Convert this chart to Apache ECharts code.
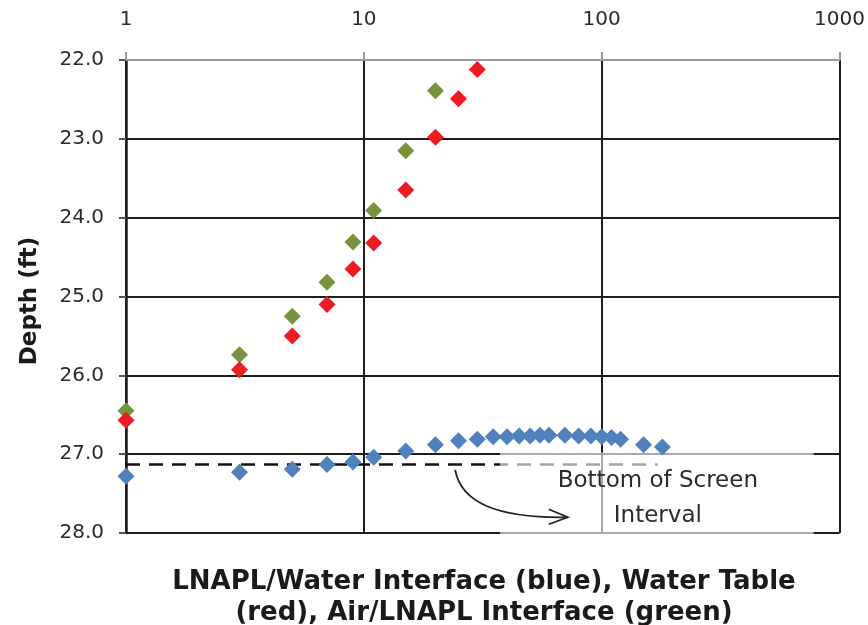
<!DOCTYPE html>
<html>
<head>
<meta charset="utf-8">
<script src="https://cdn.jsdelivr.net/npm/echarts@6/dist/echarts.min.js"></script>
<style>
  html, body { margin: 0; padding: 0; background: #fff; }
  #chart { width: 868px; height: 625px; }
</style>
</head>
<body>
<div id="chart"></div>
<script>
// Decade ticks of the logarithmic x axis
const xTicks = [1, 10, 100, 1000];
// Depth ticks (ft), depth increases downward
const depthTicks = [22, 23, 24, 25, 26, 27, 28];

// Air/LNAPL interface (green)
const greenX = [1, 3, 5, 7, 9, 11, 15, 20];
const greenDepth = [26.45, 25.74, 25.25, 24.82, 24.31, 23.91, 23.15, 22.39];

// Water table (red)
const redX = [1, 3, 5, 7, 9, 11, 15, 20, 25, 30];
const redDepth = [26.57, 25.93, 25.50, 25.10, 24.65, 24.32, 23.65, 22.98, 22.49, 22.12];

// LNAPL/water interface (blue)
const blueX = [1, 3, 5, 7, 9, 11, 15, 20, 25, 30, 35, 40, 45, 50, 55, 60, 70, 80, 90, 100, 110, 120, 150, 180];
const blueDepth = [27.28, 27.23, 27.19, 27.13, 27.10, 27.04, 26.96, 26.88, 26.83, 26.81, 26.78, 26.78, 26.77, 26.77,
                   26.76, 26.76, 26.76, 26.77, 26.77, 26.78, 26.79, 26.81, 26.88, 26.91];

// Bottom of the well screen interval (dashed reference line)
const screenX = [1, 172];
const screenDepth = [27.13, 27.13];

// Callout box extent, in data units
const calloutX = [37.4, 778];
const calloutDepth = [26.98, 28.02];
const calloutLines = ['Bottom of Screen', 'Interval'];

const yTitle = 'Depth (ft)';
const xTitle = 'LNAPL/Water Interface (blue), Water Table\n(red), Air/LNAPL Interface (green)';

const toPairs = (xs, ys) => xs.map((x, i) => [x, ys[i]]);

const chart = echarts.init(document.getElementById('chart'));
const FONT = 'DejaVu Sans';

chart.setOption({
  animation: false,
  backgroundColor: '#ffffff',
  grid: { left: 126, right: 25, top: 60, bottom: 92, containLabel: false },
  title: {
    text: xTitle,
    left: 484,
    top: 567,
    padding: 0,
    textAlign: 'center',
    textStyle: { fontFamily: FONT, fontSize: 26, fontWeight: 'bold', color: '#1a1a1a', lineHeight: 31 }
  },
  xAxis: {
    type: 'log',
    logBase: 10,
    min: xTicks[0],
    max: xTicks[xTicks.length - 1],
    position: 'top',
    axisLine: { show: true, lineStyle: { color: '#9a9a9a', width: 2 } },
    axisTick: { show: true, inside: false, length: 8, lineStyle: { color: '#9a9a9a', width: 2 } },
    minorTick: { show: false },
    axisLabel: { fontFamily: FONT, fontSize: 20, color: '#2a2a2a', margin: 30,
                 formatter: v => String(Math.round(v)) },
    splitLine: { show: true, lineStyle: { color: '#1e1e1e', width: 2 } }
  },
  yAxis: {
    type: 'value',
    inverse: true,
    min: depthTicks[0],
    max: depthTicks[depthTicks.length - 1],
    interval: 1,
    axisLine: { show: true, lineStyle: { color: '#1e1e1e', width: 2.5 } },
    axisTick: { show: true, inside: false, length: 7, lineStyle: { color: '#555', width: 2 } },
    axisLabel: { fontFamily: FONT, fontSize: 20, color: '#2a2a2a', margin: 22,
                 formatter: v => v.toFixed(1) },
    splitLine: { show: true, lineStyle: {
      color: ['#9a9a9a', '#1e1e1e', '#1e1e1e', '#1e1e1e', '#1e1e1e', '#1e1e1e', '#1e1e1e'], width: 2 } }
  },
  series: [
    {
      name: 'Bottom of Screen',
      type: 'line',
      data: toPairs(screenX, screenDepth),
      symbol: 'none',
      z: 2,
      lineStyle: { color: '#111', width: 2.5, type: [14, 9] },
      silent: true
    },
    {
      name: 'Air/LNAPL Interface',
      type: 'scatter',
      symbol: 'diamond',
      symbolSize: 17,
      z: 5,
      itemStyle: { color: '#77933c', opacity: 1 },
      data: toPairs(greenX, greenDepth)
    },
    {
      name: 'Water Table',
      type: 'scatter',
      symbol: 'diamond',
      symbolSize: 17,
      z: 5,
      itemStyle: { color: '#ec1c24', opacity: 1 },
      data: toPairs(redX, redDepth)
    },
    {
      name: 'LNAPL/Water Interface',
      type: 'scatter',
      symbol: 'diamond',
      symbolSize: 17,
      z: 5,
      itemStyle: { color: '#4f81bd', opacity: 1 },
      data: toPairs(blueX, blueDepth)
    }
  ]
});

// Callout: translucent box, label text and curved arrow pointing at the screen line
const px = p => chart.convertToPixel({ gridIndex: 0 }, p);
const boxTL = px([calloutX[0], calloutDepth[0]]);
const boxBR = px([calloutX[1], calloutDepth[1]]);
const cx = (boxTL[0] + boxBR[0]) / 2 + 1;

const arrowStart = px([24.2, 27.2]);
const arrowEnd = px([72, 27.8]);

chart.setOption({
  graphic: [
    {
      type: 'text',
      x: 30,
      y: 301,
      rotation: Math.PI / 2,
      style: { text: yTitle, fontFamily: FONT, fontSize: 23, fontWeight: 'bold', fill: '#1a1a1a',
               align: 'center', verticalAlign: 'middle' }
    },
    {
      type: 'rect',
      z: 3,
      shape: { x: boxTL[0], y: boxTL[1], width: boxBR[0] - boxTL[0], height: boxBR[1] - boxTL[1] },
      style: { fill: 'rgba(255,255,255,0.62)' },
      silent: true
    },
    {
      type: 'text',
      z: 4,
      x: cx,
      y: boxTL[1] + 28,
      style: { text: calloutLines[0], fontFamily: FONT, fontSize: 23, fill: '#2b2b2b',
               align: 'center', verticalAlign: 'middle' }
    },
    {
      type: 'text',
      z: 4,
      x: cx,
      y: boxTL[1] + 63,
      style: { text: calloutLines[1], fontFamily: FONT, fontSize: 23, fill: '#2b2b2b',
               align: 'center', verticalAlign: 'middle' }
    },
    {
      type: 'bezierCurve',
      z: 4,
      shape: {
        x1: arrowStart[0], y1: arrowStart[1],
        cpx1: arrowStart[0] + 6, cpy1: arrowStart[1] + 32,
        cpx2: arrowStart[0] + 40, cpy2: arrowEnd[1] + 1,
        x2: arrowEnd[0], y2: arrowEnd[1]
      },
      style: { stroke: '#222', lineWidth: 1.8, fill: 'none' }
    },
    {
      type: 'polyline',
      z: 4,
      shape: { points: [[arrowEnd[0] - 19, arrowEnd[1] - 8], [arrowEnd[0], arrowEnd[1]], [arrowEnd[0] - 19, arrowEnd[1] + 7]] },
      style: { stroke: '#222', lineWidth: 1.8, fill: 'none' }
    }
  ]
});
</script>
</body>
</html>
